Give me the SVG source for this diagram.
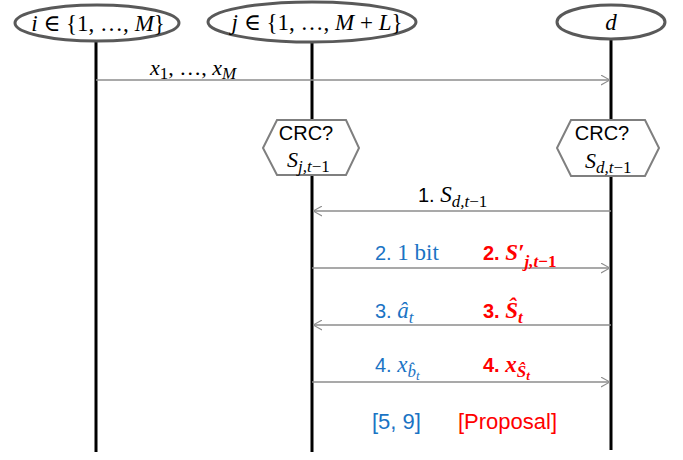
<svg xmlns="http://www.w3.org/2000/svg" width="683" height="460" viewBox="0 0 683 460">
<style>
.life{stroke:#000;stroke-width:3}
.node ellipse{fill:#fff;stroke:#595959;stroke-width:3}
.hex{fill:#fff;stroke:#7f7f7f;stroke-width:2}
.msg{stroke:#8c8c8c;stroke-width:1.3;fill:none}
.m{font-family:"Liberation Serif","DejaVu Serif",serif;font-size:23px}
.i{font-style:italic}
.sub{font-size:17px}
.s{font-family:"Liberation Sans",Arial,sans-serif;font-size:20px}
.blue{fill:#1a73c4}
.red{fill:#ff0000}
.b{font-weight:bold}
</style>
<defs>
<marker id="ah" viewBox="0 0 10 12" refX="10" refY="6" markerWidth="9" markerHeight="11" markerUnits="userSpaceOnUse" orient="auto-start-reverse">
<path d="M0,0.5 L10,6 L0,11.5" fill="none" stroke="#8c8c8c" stroke-width="1.2"/>
</marker>
</defs>
<rect width="683" height="460" fill="#fff"/>

<g id="node-i" class="node">
<line class="life" x1="96" y1="40" x2="96" y2="452"/>
<ellipse cx="97" cy="23" rx="82" ry="18"/>
<text class="m" x="98" y="31" text-anchor="middle" style="font-size:23px"><tspan class="i">i</tspan> ∈ {1, …, <tspan class="i">M</tspan>}</text>
</g>
<g id="node-j" class="node">
<line class="life" x1="312" y1="42" x2="312" y2="452"/>
<ellipse cx="312" cy="22" rx="104" ry="20"/>
<text class="m" x="317" y="30" text-anchor="middle" style="font-size:23px"><tspan class="i">j</tspan> ∈ {1, …, <tspan class="i">M</tspan> + <tspan class="i">L</tspan>}</text>
</g>
<g id="node-d" class="node">
<line class="life" x1="611" y1="38" x2="611" y2="450"/>
<ellipse cx="611" cy="22" rx="54" ry="17"/>
<text class="m i" x="611" y="30" text-anchor="middle" style="font-size:23px">d</text>
</g>

<g id="connectors">
<line class="msg" x1="96" y1="80" x2="610" y2="80" marker-end="url(#ah)"/>
<line class="msg" x1="611" y1="211" x2="313" y2="211" marker-end="url(#ah)"/>
<line class="msg" x1="312" y1="268" x2="610" y2="268" marker-end="url(#ah)"/>
<line class="msg" x1="611" y1="325" x2="313" y2="325" marker-end="url(#ah)"/>
<line class="msg" x1="312" y1="382" x2="610" y2="382" marker-end="url(#ah)"/>
<text class="m" x="150" y="75" style="font-size:22px"><tspan class="i">x</tspan><tspan class="sub" dy="4">1</tspan><tspan dy="-4">, …, </tspan><tspan class="i">x</tspan><tspan class="sub i" dy="4">M</tspan></text>
<text x="418" y="202"><tspan class="s">1. </tspan><tspan class="m i">S</tspan><tspan class="m sub i" dy="5">d,t</tspan><tspan class="m sub">−1</tspan></text>
<text x="375" y="260" class="blue"><tspan class="s">2. </tspan><tspan class="m">1 bit</tspan></text>
<text x="483" y="260" class="red b"><tspan class="s">2. </tspan><tspan class="m i">S′</tspan><tspan class="m sub i" dy="7">j,t</tspan><tspan class="m sub">−1</tspan></text>
<text x="375" y="318" class="blue"><tspan class="s">3. </tspan><tspan class="m i">â</tspan><tspan class="m sub i" dy="5">t</tspan></text>
<text x="483" y="318" class="red b"><tspan class="s">3. </tspan><tspan class="m i">Ŝ</tspan><tspan class="m sub i" dy="5">t</tspan></text>
<text x="375" y="372" class="blue"><tspan class="s">4. </tspan><tspan class="m i">x</tspan><tspan class="m sub i" dy="5">b̂</tspan><tspan class="m i" style="font-size:13px" dy="3">t</tspan></text>
<text x="483" y="372" class="red b"><tspan class="s">4. </tspan><tspan class="m i">x</tspan><tspan class="m sub i" dy="5">Ŝ</tspan><tspan class="m i" style="font-size:13px" dy="3">t</tspan></text>
<text x="372" y="429" class="s blue" style="font-size:22px">[5, 9]</text>
<text x="458" y="429" class="s red" style="font-size:22px">[Proposal]</text>
</g>

<g id="crc-j">
<polygon class="hex" points="263,148 277,120 346,120 359,148 346,175 277,175"/>
<text class="s" x="306" y="140" text-anchor="middle">CRC?</text>
<text x="287" y="167"><tspan class="m i" style="font-size:22px">S</tspan><tspan class="m sub i" dy="5">j,t</tspan><tspan class="m sub">−1</tspan></text>
</g>
<g id="crc-d">
<polygon class="hex" points="557,148 571,120 645,120 659,148 645,176 571,176"/>
<text class="s" x="602" y="140" text-anchor="middle">CRC?</text>
<text x="585" y="168"><tspan class="m i" style="font-size:22px">S</tspan><tspan class="m sub i" dy="5">d,t</tspan><tspan class="m sub">−1</tspan></text>
</g>
</svg>
